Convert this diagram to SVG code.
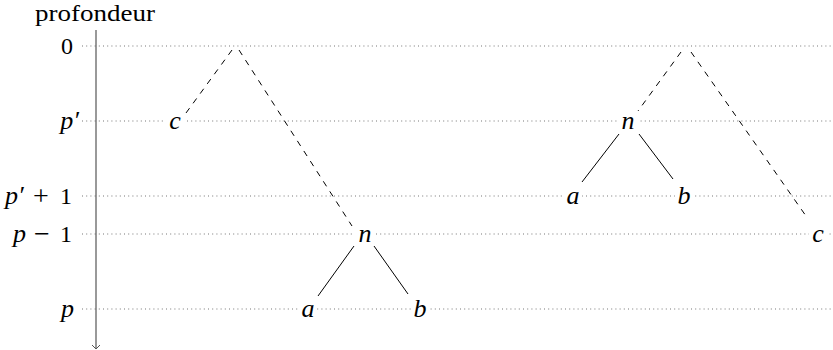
<svg xmlns="http://www.w3.org/2000/svg" width="833" height="350" viewBox="0 0 833 350">
<style>
.lvl{stroke:#777;stroke-width:1.1;stroke-dasharray:1 3.2;fill:none}
.dash{stroke:#000;stroke-width:1;stroke-dasharray:6 6;fill:none}
.solid{stroke:#000;stroke-width:1;fill:none}
.lab{font-family:"Liberation Serif","DejaVu Serif",serif;font-size:26px;font-style:italic;fill:#000}
.ax{font-family:"Liberation Serif","DejaVu Serif",serif;font-size:24px;fill:#000}
.op{font-family:"Liberation Serif","DejaVu Serif",serif;font-size:28px;fill:#000}
.bg{fill:#fff}
</style>
<defs>
<marker id="arr" markerWidth="10" markerHeight="10" refX="5" refY="5" orient="auto" markerUnits="userSpaceOnUse">
<path d="M1,1 L5,5 L1,9" fill="none" stroke="#555" stroke-width="1"/>
</marker>
</defs>
<g id="levels">
<line class="lvl" x1="82" y1="46" x2="833" y2="46"/>
<line class="lvl" x1="82" y1="121" x2="833" y2="121"/>
<line class="lvl" x1="82" y1="196" x2="833" y2="196"/>
<line class="lvl" x1="82" y1="234" x2="833" y2="234"/>
<line class="lvl" x1="82" y1="309" x2="833" y2="309"/>
</g>
<g id="axis">
<line x1="96" y1="30" x2="96" y2="349" stroke="#555" stroke-width="1.2" marker-end="url(#arr)"/>
<text class="ax" x="35" y="21" font-size="20" textLength="120" lengthAdjust="spacingAndGlyphs">profondeur</text>
<text class="ax" x="73" y="54" text-anchor="end">0</text>
<text class="lab" x="79" y="129" text-anchor="end">p′</text>
<text class="lab" x="5" y="204">p′</text><text class="op" x="41" y="205" text-anchor="middle">+</text><text class="ax" x="72" y="204" text-anchor="end">1</text>
<text class="lab" x="13" y="242">p</text><text class="op" x="42" y="243" text-anchor="middle">−</text><text class="ax" x="72" y="242" text-anchor="end">1</text>
<text class="lab" x="74" y="317" text-anchor="end">p</text>
</g>
<g id="connectors">
<line class="dash" x1="232" y1="50" x2="186" y2="113"/>
<line class="dash" x1="239" y1="50" x2="352" y2="226"/>
<line class="solid" x1="354" y1="246" x2="318" y2="296"/>
<line class="solid" x1="374" y1="246" x2="408" y2="294"/>
<line class="dash" x1="681" y1="52" x2="638" y2="111"/>
<line class="dash" x1="691" y1="52" x2="806" y2="216"/>
<line class="solid" x1="619" y1="134" x2="582" y2="182"/>
<line class="solid" x1="639" y1="134" x2="673" y2="179"/>
</g>
<g id="L_c"><rect class="bg" x="166" y="111" width="18" height="20"/><text class="lab" x="175" y="129" text-anchor="middle">c</text></g>
<g id="L_n"><rect class="bg" x="354" y="224" width="22" height="20"/><text class="lab" x="365" y="242" text-anchor="middle">n</text></g>
<g id="L_a"><rect class="bg" x="299" y="299" width="18" height="20"/><text class="lab" x="308" y="317" text-anchor="middle">a</text></g>
<g id="L_b"><rect class="bg" x="411" y="297" width="18" height="22"/><text class="lab" x="420" y="317" text-anchor="middle">b</text></g>
<g id="R_n"><rect class="bg" x="617" y="111" width="22" height="20"/><text class="lab" x="628" y="129" text-anchor="middle">n</text></g>
<g id="R_a"><rect class="bg" x="564" y="186" width="18" height="20"/><text class="lab" x="573" y="204" text-anchor="middle">a</text></g>
<g id="R_b"><rect class="bg" x="675" y="184" width="18" height="22"/><text class="lab" x="684" y="204" text-anchor="middle">b</text></g>
<g id="R_c"><rect class="bg" x="809" y="224" width="18" height="20"/><text class="lab" x="818" y="242" text-anchor="middle">c</text></g>
</svg>
